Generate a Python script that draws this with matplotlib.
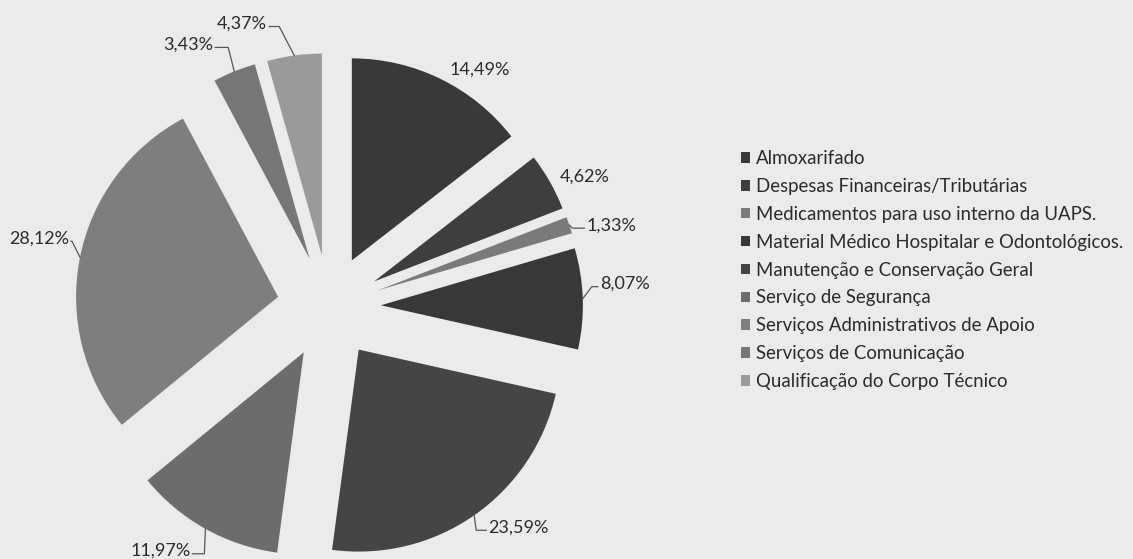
import numpy as np
import matplotlib
matplotlib.use("agg")
import matplotlib.pyplot as plt

categories = ["Almoxarifado",
              "Despesas Financeiras/Tributárias",
              "Medicamentos para uso interno da UAPS.",
              "Material Médico Hospitalar e Odontológicos.",
              "Manutenção e Conservação Geral",
              "Serviço de Segurança",
              "Serviços Administrativos de Apoio",
              "Serviços de Comunicação",
              "Qualificação do Corpo Técnico"]
values = [14.49, 4.62, 1.33, 8.07, 23.59, 11.97, 28.12, 3.43, 4.37]
colors = ["#393939", "#3e3e3e", "#7a7a7a", "#383838", "#454545",
          "#6c6c6c", "#7e7e7e", "#767676", "#9a9a9a"]

# label placement, in pixels from the wedge's outer mid point (y down)
# (elbow dx, elbow dy, horizontal run) or None -> plain text offset
leaders = [None, None, (3, 3, 12), (9, -12, 6), (2, 15, 10),
           (-1, 25, -12), (-8, -16, -1), (-6, -24, -13), (-15, -29, -10)]
plain_offsets = {0: (39, -9), 1: (35, -5)}

W, H = 1133, 559
R_PX = 202.0
CX, CY = 329, 307          # pie centre in pixels (from top-left)
EXPLODE = 0.257

bg = "#ebebed"
txt = "#2b2b2b"
plt.rcParams["font.family"] = ["Lato", "DejaVu Sans"]

fig = plt.figure(figsize=(W / 100, H / 100), dpi=100, facecolor=bg)
ax = fig.add_axes([0, 0, 1, 1])
ax.set_facecolor(bg)

wedges, _ = ax.pie(values, explode=[EXPLODE] * len(values), startangle=90,
                   counterclock=False, colors=colors, radius=1,
                   wedgeprops=dict(linewidth=0))

ax.set_xlim(-CX / R_PX, (W - CX) / R_PX)
ax.set_ylim(-(H - CY) / R_PX, CY / R_PX)
ax.set_aspect("auto")
ax.axis("off")

tot = sum(values)
cum = np.cumsum([0] + values[:-1])
for i, v in enumerate(values):
    th = np.deg2rad((cum[i] + v / 2) / tot * 360)
    px = (1 + EXPLODE) * np.sin(th)
    py = (1 + EXPLODE) * np.cos(th)
    lab = f"{v:.2f}%".replace(".", ",")
    if leaders[i] is None:
        ox, oy = plain_offsets[i]
        ax.text(px + ox / R_PX, py - oy / R_PX, lab, ha="center", va="center",
                fontsize=13, color=txt)
        continue
    ex, ey, hr = leaders[i]
    ex_d, ey_d = px + ex / R_PX, py - ey / R_PX
    hx_d = ex_d + hr / R_PX
    ax.plot([px, ex_d, hx_d], [py, ey_d, ey_d], color="#555555", lw=0.9)
    ha = "left" if hr >= 0 else "right"
    gap = 2 / R_PX if hr >= 0 else -2 / R_PX
    ax.text(hx_d + gap, ey_d + 3 / R_PX, lab, ha=ha, va="center",
            fontsize=13, color=txt)

fig.legend(wedges, categories, loc="upper left",
           bbox_to_anchor=(741 / W, 1 - 150 / H), frameon=False,
           fontsize=13.4, labelcolor=txt, handlelength=0.5, handleheight=0.5,
           handletextpad=0.3, labelspacing=0.585, borderpad=0, borderaxespad=0)

fig.savefig("out.png", dpi=100, facecolor=bg)
